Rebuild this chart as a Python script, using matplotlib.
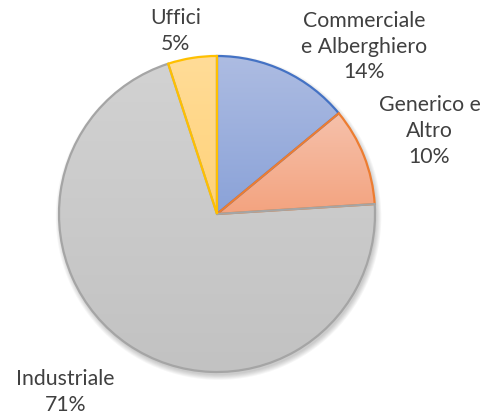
import matplotlib.pyplot as plt
import numpy as np
from matplotlib.colors import LinearSegmentedColormap

labels = ["Commerciale\ne Alberghiero", "Generico e\nAltro", "Industriale", "Uffici"]
shares = [14, 10, 71, 5]
edge_colors = ["#4472c4", "#ed7d31", "#a5a5a5", "#ffc000"]
top_colors = ["#adbce2", "#f6c1ab", "#d2d2d2", "#ffdc98"]
bottom_colors = ["#8aa2d8", "#f3a37f", "#c2c2c2", "#ffd278"]

# label centres in pie units (radius = 1)
label_pos = [(0.93, 1.065), (1.345, 0.53), (-0.96, -1.12), (-0.26, 1.165)]

W, H = 485, 414
cx, cy, R = 217, 215, 158

fig = plt.figure(figsize=(W / 100, H / 100), dpi=100)
ax = fig.add_axes([0, 0, 1, 1])

# soft shadow under the pie
for i in range(6):
    sh = plt.Circle((0.01, -0.02), 1.0 + 0.006 * i, color="#000000",
                    alpha=0.035, zorder=0, lw=0)
    ax.add_patch(sh)

wedges, _ = ax.pie(shares, startangle=90, counterclock=False, radius=1,
                   center=(0, 0), frame=True,
                   wedgeprops=dict(linewidth=1.6, zorder=2))

for w, ec, tc, bc in zip(wedges, edge_colors, top_colors, bottom_colors):
    w.set_facecolor("none")
    w.set_edgecolor(ec)
    w.set_zorder(3)
    ext = w.get_path().get_extents()
    # vertical gradient inside each slice, lighter at the top
    cmap = LinearSegmentedColormap.from_list("g", [bc, tc])
    grad = np.linspace(0, 1, 256).reshape(-1, 1)
    im = ax.imshow(grad, cmap=cmap, extent=(ext.x0, ext.x1, ext.y0, ext.y1),
                   origin="lower", aspect="auto", zorder=2, interpolation="bilinear")
    im.set_clip_path(w)

ax.set_xlim(-cx / R, (W - cx) / R)
ax.set_ylim(-(H - cy) / R, cy / R)
ax.axis("off")

for lab, s, (x, y) in zip(labels, shares, label_pos):
    ax.text(x, y, f"{lab}\n{s}%", ha="center", va="center", fontsize=15.3,
            family="Lato", color="#404040", linespacing=1.36, zorder=5)

fig.savefig("out.png", dpi=100)
